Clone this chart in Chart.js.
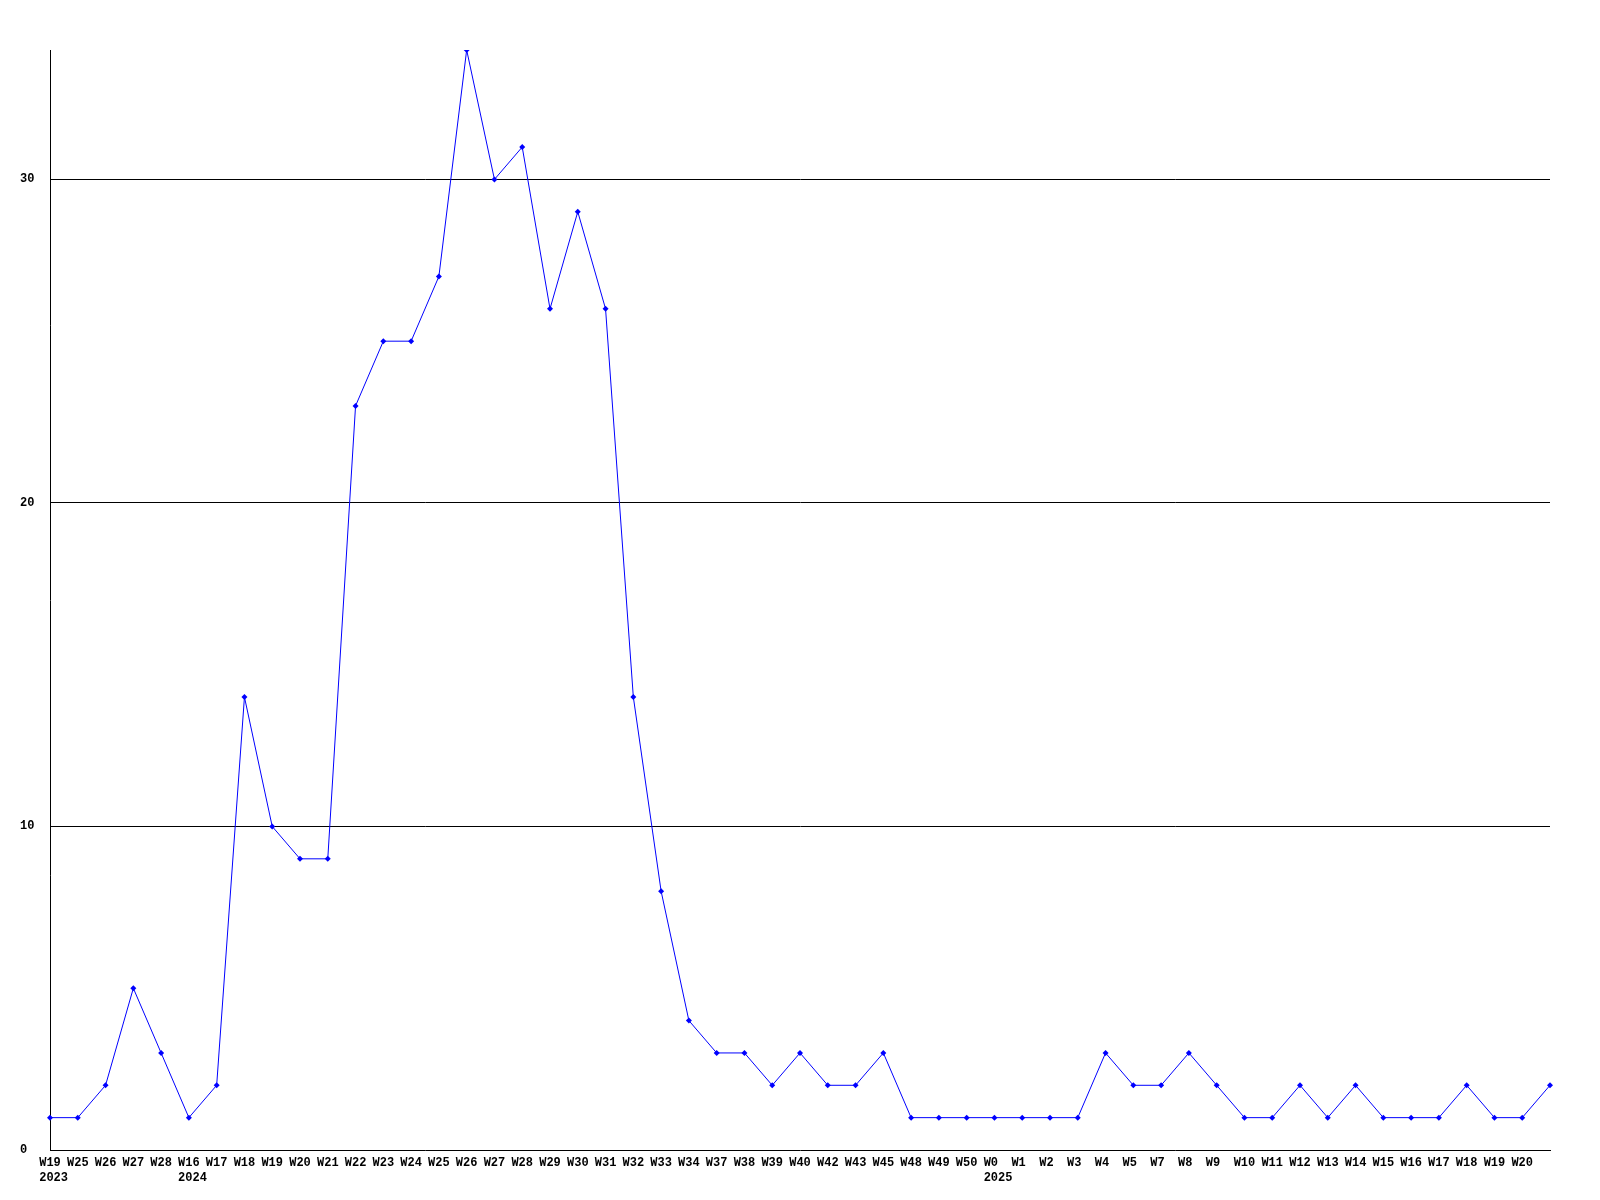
<!DOCTYPE html>
<html>
<head>
<meta charset="utf-8">
<script src="https://cdn.jsdelivr.net/npm/chart.js@4/dist/chart.umd.min.js"></script>
<style>
  html, body { margin: 0; padding: 0; background: #fff; }
  #wrap { width: 1600px; height: 1200px; }
</style>
</head>
<body>
<div id="wrap"><canvas id="weeklyChart" width="1600" height="1200"></canvas></div>
<script>
// Semanas (etiquetas del eje X); la última no tiene etiqueta
const weeks = [
  'W19', 'W25', 'W26', 'W27', 'W28',
  'W16', 'W17', 'W18', 'W19', 'W20', 'W21', 'W22', 'W23', 'W24', 'W25', 'W26', 'W27', 'W28', 'W29', 'W30',
  'W31', 'W32', 'W33', 'W34', 'W37', 'W38', 'W39', 'W40', 'W42', 'W43', 'W45', 'W48', 'W49', 'W50',
  'W0', 'W1', 'W2', 'W3', 'W4', 'W5', 'W7', 'W8', 'W9', 'W10', 'W11', 'W12', 'W13', 'W14', 'W15',
  'W16', 'W17', 'W18', 'W19', 'W20', ''
];
// Año que aparece debajo de la primera semana de cada año
const yearStarts = { 0: '2023', 5: '2024', 34: '2025' };

const counts = [
  1, 1, 2, 5, 3,
  1, 2, 14, 10, 9, 9, 23, 25, 25, 27, 34, 30, 31, 26, 29,
  26, 14, 8, 4, 3, 3, 2, 3, 2, 2, 3, 1, 1, 1,
  1, 1, 1, 1, 3, 2, 2, 3, 2, 1, 1, 2, 1, 2, 1,
  1, 1, 2, 1, 1, 2
];

const yTicks = [0, 10, 20, 30];
const yMax = 34;

const LINE_COLOR = '#0000ff';
const tickFont = { family: '"Liberation Mono", "DejaVu Sans Mono", monospace', size: 12, weight: 'bold', lineHeight: 1.25 };

// En el original todas las etiquetas empiezan en el mismo desplazamiento respecto al punto
// (texto alineado a la izquierda): se imita rellenando con espacios, la fuente es monoespaciada
const labels = weeks.map((w, i) => {
  const wk = w ? w.padEnd(3, ' ') : w;
  if (!yearStarts[i]) return wk;
  return [wk, ' ' + yearStarts[i]];
});

try {
  const ctx = document.getElementById('weeklyChart').getContext('2d');
  new Chart(ctx, {
    type: 'line',
    data: {
      labels: labels,
      datasets: [{
        data: counts,
        borderColor: LINE_COLOR,
        backgroundColor: LINE_COLOR,
        borderWidth: 1,
        tension: 0,
        pointStyle: 'rectRot',
        pointRadius: 3,
        pointBorderWidth: 0,
        pointBackgroundColor: LINE_COLOR
      }]
    },
    options: {
      responsive: false,
      animation: false,
      layout: { padding: { left: 20, right: 50, top: 50, bottom: 15 } },
      plugins: { legend: { display: false }, tooltip: { enabled: false } },
      scales: {
        x: {
          offset: false,
          grid: { display: false, drawTicks: false },
          border: { display: true, color: '#000', width: 1 },
          ticks: {
            color: '#000',
            font: tickFont,
            autoSkip: false,
            maxRotation: 0,
            minRotation: 0,
            padding: 5
          },
          afterFit: scale => { scale.height = 35; }
        },
        y: {
          min: 0,
          max: yMax,
          afterBuildTicks: scale => { scale.ticks = yTicks.map(v => ({ value: v })); },
          grid: {
            drawTicks: false,
            color: c => (c.tick && c.tick.value === 0) ? 'rgba(0,0,0,0)' : '#000',
            lineWidth: 1
          },
          border: { display: true, color: '#000', width: 1 },
          ticks: {
            color: '#000',
            font: tickFont,
            crossAlign: 'far',
            padding: 0
          },
          afterFit: scale => { scale.width = 30; }
        }
      }
    }
  });
} catch (e) { console.error('Error en weeklyChart:', e); }
</script>
</body>
</html>
